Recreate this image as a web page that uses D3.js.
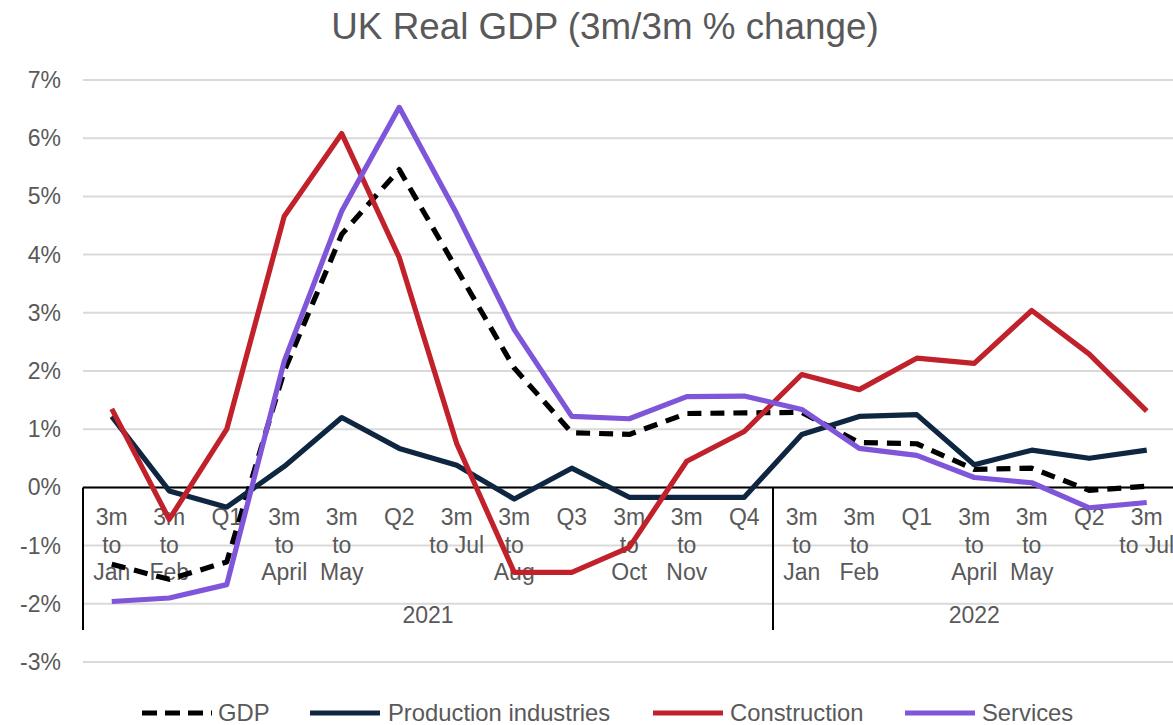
<!DOCTYPE html>
<html><head><meta charset="utf-8">
<script src="https://cdn.jsdelivr.net/npm/d3@7"></script>
<style>html,body{margin:0;padding:0;background:#fff;overflow:hidden}</style>
</head><body><div id="chart"></div>
<script>
// ---- data ----
const categories = ["3m\nto\nJan","3m\nto\nFeb","Q1","3m\nto\nApril","3m\nto\nMay","Q2","3m\nto Jul","3m\nto\nAug","Q3","3m\nto\nOct","3m\nto\nNov","Q4",
                    "3m\nto\nJan","3m\nto\nFeb","Q1","3m\nto\nApril","3m\nto\nMay","Q2","3m\nto Jul"];
const years = ["2021","2022"];
const yearCounts = [12, 7];
const gdp          = [-1.32,-1.58,-1.28,2.0,4.35,5.46,3.75,2.05,0.94,0.91,1.27,1.28, 1.29,0.77,0.75,0.31,0.33,-0.05,0.02];
const production   = [1.22,-0.06,-0.34,0.36,1.2,0.67,0.38,-0.2,0.33,-0.17,-0.17,-0.17, 0.91,1.22,1.25,0.39,0.64,0.5,0.64];
const construction = [1.35,-0.55,1.0,4.66,6.08,3.95,0.75,-1.46,-1.46,-1.03,0.45,0.96, 1.94,1.68,2.22,2.13,3.04,2.29,1.31];
const services     = [-1.96,-1.9,-1.67,2.17,4.75,6.53,4.7,2.71,1.22,1.18,1.56,1.57, 1.34,0.67,0.55,0.17,0.08,-0.35,-0.26];
const yTicks = [-3,-2,-1,0,1,2,3,4,5,6,7];
const seriesNames = ["GDP","Production industries","Construction","Services"];

// ---- chart ----
const W = 1173, H = 725;
const font = "'Liberation Sans', Arial, sans-serif";
const grey = "#595959";
const svg = d3.select("#chart").append("svg").attr("width", W).attr("height", H)
  .style("font-family", font);

const x = d3.scaleBand().domain(d3.range(categories.length)).range([83, 83 + 19 * 57.5]).paddingInner(0).paddingOuter(0);
const y = d3.scaleLinear().domain([-3, 7]).range([662, 80]);
const cx = i => x(i) + x.bandwidth() / 2;

// title
svg.append("text").attr("x", 605).attr("y", 39).attr("text-anchor", "middle")
  .attr("font-size", 36.8).attr("fill", grey).text("UK Real GDP (3m/3m % change)");

// gridlines
svg.append("g").selectAll("line").data(yTicks).join("line")
  .attr("x1", 83).attr("x2", W).attr("y1", d => y(d)).attr("y2", d => y(d))
  .attr("stroke", "#d9d9d9").attr("stroke-width", 2);

// y labels
svg.append("g").selectAll("text").data(yTicks).join("text")
  .attr("x", 61).attr("y", d => y(d) + 8).attr("text-anchor", "end")
  .attr("font-size", 23).attr("fill", grey).text(d => d + "%");

// category labels
const catG = svg.append("g");
categories.forEach((c, i) => {
  const t = catG.append("text").attr("text-anchor", "middle").attr("font-size", 23).attr("fill", grey);
  c.split("\n").forEach((ln, j) => {
    t.append("tspan").attr("x", cx(i)).attr("y", 525 + j * 27.5).text(ln);
  });
});

// year labels
let start = 0;
const boundaries = [0];
years.forEach((yr, k) => {
  const a = x(start), b = x(start + yearCounts[k] - 1) + x.bandwidth();
  svg.append("text").attr("x", (a + b) / 2).attr("y", 623).attr("text-anchor", "middle")
    .attr("font-size", 23).attr("fill", grey).text(yr);
  start += yearCounts[k];
  boundaries.push(start);
});

// axis lines
svg.append("g").selectAll("line").data(boundaries.slice(0, -1)).join("line")
  .attr("x1", d => x(d)).attr("x2", d => x(d)).attr("y1", y(0)).attr("y2", 630)
  .attr("stroke", "#000").attr("stroke-width", 2);
svg.append("line").attr("x1", 83).attr("x2", W).attr("y1", y(0)).attr("y2", y(0))
  .attr("stroke", "#000").attr("stroke-width", 2);

// series
const series = [
  {name: seriesNames[0], values: gdp, color: "#000000", dash: "14,9"},
  {name: seriesNames[1], values: production, color: "#0e2640", dash: null},
  {name: seriesNames[2], values: construction, color: "#c1212b", dash: null},
  {name: seriesNames[3], values: services, color: "#7f55d9", dash: null}
];
const line = d3.line().x((d, i) => cx(i)).y(d => y(d));
series.forEach(s => {
  svg.append("path").datum(s.values).attr("d", line)
    .attr("fill", "none").attr("stroke", s.color).attr("stroke-width", 5.2)
    .attr("stroke-linejoin", "round")
    .attr("stroke-dasharray", s.dash);
});

// legend
const legendItems = [
  {x: 142, tx: 218}, {x: 310, tx: 388}, {x: 653, tx: 730}, {x: 905, tx: 982}
];
series.forEach((s, k) => {
  const li = legendItems[k];
  svg.append("line").attr("x1", li.x).attr("x2", li.x + 70).attr("y1", 713).attr("y2", 713)
    .attr("stroke", s.color).attr("stroke-width", 5.2)
    .attr("stroke-dasharray", s.dash ? "15,8" : null);
  svg.append("text").attr("x", li.tx).attr("y", 721).attr("font-size", 23.8)
    .attr("fill", grey).text(s.name);
});
</script></body></html>
